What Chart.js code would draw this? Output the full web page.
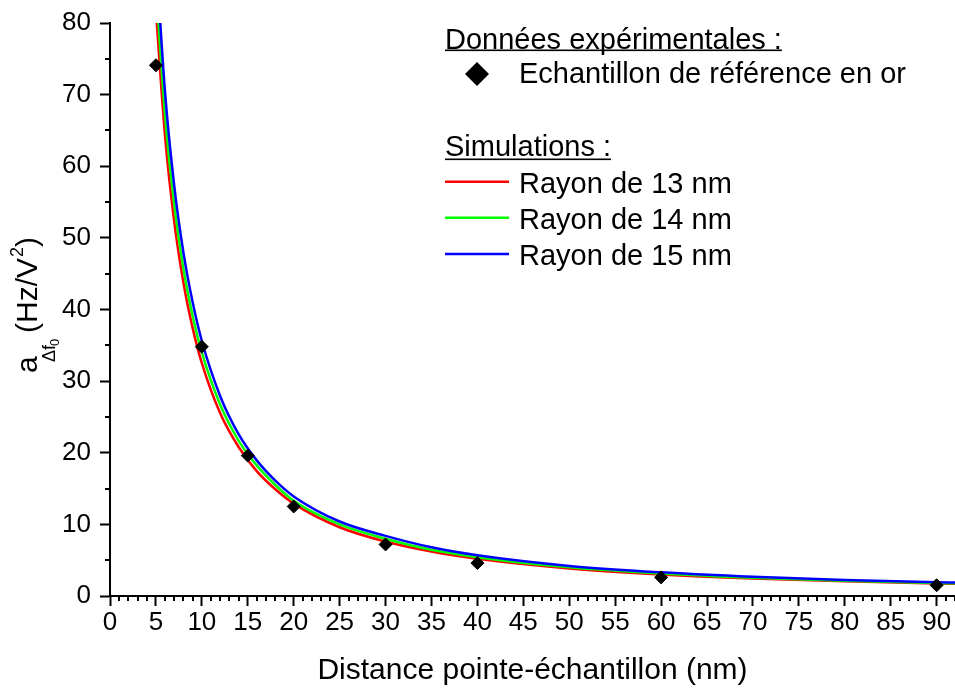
<!DOCTYPE html>
<html>
<head>
<meta charset="utf-8">
<title>a_Δf0 en fonction de la distance</title>
<script src="https://cdn.jsdelivr.net/npm/chart.js@4.4.0/dist/chart.umd.min.js"></script>
<style>
  body { margin: 0; background: #fff; }
  #wrap { width: 955px; height: 691px; }
</style>
</head>
<body>
<div id="wrap"><canvas id="chart" width="955" height="691"></canvas></div>
<script>
// points experimentaux (echantillon de reference en or)
var expDist = [5, 10, 15, 20, 30, 40, 60, 90];
var expVal  = [74.1, 34.8, 19.6, 12.5, 7.2, 4.6, 2.6, 1.5];

// courbes simulees
var simDist = [5, 6, 7, 8, 9, 10, 12, 14, 16, 18, 20, 25, 30, 35, 40, 50, 60, 70, 80, 90, 92];
var r13 = [81.7, 64.1, 52.2, 43.7, 37.4, 32.5, 25.5, 20.8, 17.4, 14.9, 12.9, 9.6, 7.6, 6.2, 5.2, 3.85, 3.0, 2.44, 2.05, 1.75, 1.70];
var r14 = [85.4, 67.0, 54.6, 45.7, 39.1, 34.0, 26.7, 21.7, 18.2, 15.5, 13.3, 10.0, 8.0, 6.45, 5.42, 4.0, 3.14, 2.55, 2.14, 1.83, 1.78];
var r15 = [89.5, 70.2, 57.2, 47.9, 41.0, 35.6, 27.9, 22.6, 18.9, 16.1, 13.9, 10.4, 8.4, 6.8, 5.68, 4.2, 3.3, 2.68, 2.25, 1.92, 1.87];

var xTicks = [0, 5, 10, 15, 20, 25, 30, 35, 40, 45, 50, 55, 60, 65, 70, 75, 80, 85, 90];
var yTicks = [0, 10, 20, 30, 40, 50, 60, 70, 80];

var FONT = "'Liberation Sans', Arial, sans-serif";

function pts(xs, ys) {
  return xs.map(function (x, i) { return { x: x, y: ys[i] }; });
}

function curve(label, data, color, order) {
  return {
    label: label,
    data: pts(simDist, data),
    showLine: true,
    borderColor: color,
    backgroundColor: color,
    borderWidth: 2.5,
    pointRadius: 0,
    cubicInterpolationMode: 'monotone',
    order: order
  };
}

// petites graduations, titre Y avec indices, legende
var extras = {
  id: 'extras',
  afterDraw: function (chart) {
    var ctx = chart.ctx;
    var xs = chart.scales.x, ys = chart.scales.y;
    var area = chart.chartArea;
    ctx.save();
    ctx.strokeStyle = '#000';
    ctx.lineWidth = 2;
    ctx.beginPath();
    for (var v = 1; v <= 92; v++) {
      if (v % 5 === 0) continue;
      var px = Math.round(xs.getPixelForValue(v));
      ctx.moveTo(px, area.bottom);
      ctx.lineTo(px, area.bottom + 5);
    }
    for (var w = 5; w < 80; w += 10) {
      var py = Math.round(ys.getPixelForValue(w));
      ctx.moveTo(area.left, py);
      ctx.lineTo(area.left - 5, py);
    }
    ctx.stroke();

    // titre de l'axe Y
    ctx.fillStyle = '#000';
    ctx.save();
    ctx.translate(36.5, 373);
    ctx.rotate(-Math.PI / 2);
    ctx.textBaseline = 'alphabetic';
    ctx.textAlign = 'left';
    ctx.font = '30px ' + FONT;
    ctx.fillText('a', 0, 0);
    ctx.font = '18px ' + FONT;
    ctx.fillText('Δf', 11, 18);
    ctx.font = '13px ' + FONT;
    ctx.fillText('0', 27, 22);
    ctx.font = '30px ' + FONT;
    ctx.fillText('(Hz/V', 40, 0);
    var wHz = ctx.measureText('(Hz/V').width;
    ctx.font = '18px ' + FONT;
    ctx.fillText('2', 40 + wHz + 1, -14);
    var w2 = ctx.measureText('2').width;
    ctx.font = '30px ' + FONT;
    ctx.fillText(')', 40 + wHz + w2 + 1, 0);
    ctx.restore();

    // legende
    ctx.font = '29px ' + FONT;
    ctx.textBaseline = 'alphabetic';
    ctx.textAlign = 'left';
    var h1 = 'Données expérimentales :';
    ctx.fillText(h1, 445, 48.5);
    ctx.fillRect(445, 49.5, ctx.measureText(h1).width, 1.6);

    ctx.beginPath();
    ctx.moveTo(477, 74 - 12);
    ctx.lineTo(477 + 12, 74);
    ctx.lineTo(477, 74 + 12);
    ctx.lineTo(477 - 12, 74);
    ctx.closePath();
    ctx.fill();
    ctx.fillText('Echantillon de référence en or', 519, 83.3);

    var h2 = 'Simulations :';
    ctx.fillText(h2, 445, 156);
    ctx.fillRect(445, 158.5, ctx.measureText(h2).width, 1.6);

    var items = [
      ['Rayon de 13 nm', '#ff0000', 181.7, 192.7],
      ['Rayon de 14 nm', '#00ff00', 217.7, 228.5],
      ['Rayon de 15 nm', '#0000ff', 254, 264.5]
    ];
    items.forEach(function (it) {
      ctx.strokeStyle = it[1];
      ctx.lineWidth = 2.5;
      ctx.beginPath();
      ctx.moveTo(445, it[2]);
      ctx.lineTo(509, it[2]);
      ctx.stroke();
      ctx.fillText(it[0], 519, it[3]);
    });
    ctx.restore();
  }
};

function noPad(s) {
  s.paddingLeft = 0;
  s.paddingRight = 0;
  s.paddingTop = 0;
  s.paddingBottom = 0;
}

new Chart(document.getElementById('chart'), {
  type: 'scatter',
  data: {
    datasets: [
      {
        label: 'Echantillon de référence en or',
        data: pts(expDist, expVal),
        pointStyle: 'rectRot',
        pointRadius: 6.5,
        backgroundColor: '#000',
        borderColor: '#000',
        borderWidth: 1,
        order: 0
      },
      curve('Rayon de 15 nm', r15, '#0000ff', 1),
      curve('Rayon de 14 nm', r14, '#00ff00', 2),
      curve('Rayon de 13 nm', r13, '#ff0000', 3)
    ]
  },
  options: {
    responsive: false,
    animation: false,
    devicePixelRatio: 1,
    layout: { autoPadding: false, padding: { top: 23, left: 0, right: 0, bottom: 0 } },
    plugins: {
      legend: { display: false },
      tooltip: { enabled: false }
    },
    scales: {
      x: {
        type: 'linear',
        min: 0,
        max: 92,
        afterBuildTicks: function (s) { s.ticks = xTicks.map(function (v) { return { value: v }; }); },
        afterFit: function (s) { s.height = 95; noPad(s); },
        ticks: { font: { size: 26, family: FONT }, color: '#000', padding: 1, maxRotation: 0, autoSkip: false },
        grid: { drawOnChartArea: false, drawTicks: true, tickLength: 10, tickWidth: 2, tickColor: '#000' },
        border: { display: true, color: '#000', width: 2 },
        title: {
          display: true,
          text: 'Distance pointe-échantillon (nm)',
          color: '#000',
          font: { size: 30, family: FONT },
          padding: { top: 0, bottom: 2 }
        }
      },
      y: {
        type: 'linear',
        min: 0,
        max: 80,
        afterBuildTicks: function (s) { s.ticks = yTicks.map(function (v) { return { value: v }; }); },
        afterFit: function (s) { s.width = 110; noPad(s); },
        ticks: { font: { size: 26, family: FONT }, color: '#000', padding: 9 },
        grid: { drawOnChartArea: false, drawTicks: true, tickLength: 10, tickWidth: 2, tickColor: '#000' },
        border: { display: true, color: '#000', width: 2 }
      }
    }
  },
  plugins: [extras]
});
</script>
</body>
</html>
